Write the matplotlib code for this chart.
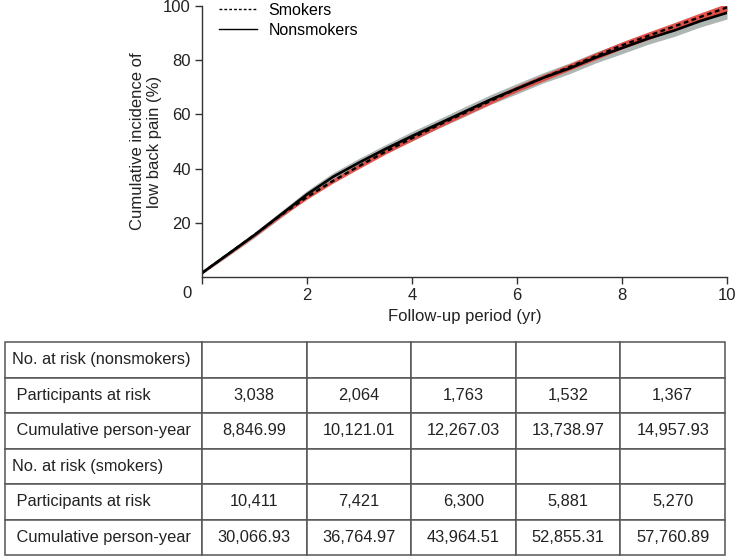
import numpy as np
import matplotlib
matplotlib.use("Agg")
import matplotlib.pyplot as plt

plt.rcParams['font.family'] = ['Liberation Sans', 'DejaVu Sans']

# follow-up time (yr) and cumulative incidence (%)
years = [0, 0.5, 1, 1.5, 2, 2.5, 3, 3.5, 4, 4.5, 5,
         5.5, 6, 6.5, 7, 7.5, 8, 8.5, 9, 9.5, 10]
smokers = [1.5, 8.5, 15.5, 22.8, 29.5, 35.5, 41.0, 46.3, 51.2, 56.0, 60.5,
           65.0, 69.5, 73.5, 77.5, 81.5, 85.5, 89.0, 92.5, 96.0, 99.5]
smokers_ci = [0.3, 0.5, 0.6, 0.7, 0.8, 0.8, 0.9, 0.9, 1.0, 1.0, 1.0,
              1.1, 1.1, 1.2, 1.2, 1.3, 1.3, 1.4, 1.4, 1.5, 1.5]
nonsmokers = [1.5, 8.5, 15.5, 23.0, 30.5, 37.0, 42.3, 47.3, 52.0, 56.5, 61.0,
              65.5, 69.5, 73.5, 77.0, 81.0, 84.5, 88.0, 91.0, 94.5, 97.5]
nonsmokers_ci = [0.4, 0.8, 1.0, 1.2, 1.4, 1.5, 1.6, 1.6, 1.7, 1.7, 1.8,
                 1.8, 1.9, 1.9, 2.0, 2.0, 2.1, 2.1, 2.2, 2.2, 2.3]

# number at risk table (columns = 0, 2, 4, 6, 8 yr)
nonsmk_at_risk = ['3,038', '2,064', '1,763', '1,532', '1,367']
nonsmk_person_yr = ['8,846.99', '10,121.01', '12,267.03', '13,738.97', '14,957.93']
smk_at_risk = ['10,411', '7,421', '6,300', '5,881', '5,270']
smk_person_yr = ['30,066.93', '36,764.97', '43,964.51', '52,855.31', '57,760.89']

W, H = 735, 557
fig = plt.figure(figsize=(W / 100, H / 100), dpi=100)

# ---- curve panel
ax = fig.add_axes([202 / W, 1 - 277 / H, 525 / W, 271 / H])
t = np.array(years)
s = np.array(smokers)
n = np.array(nonsmokers)
ax.fill_between(t, n - np.array(nonsmokers_ci), n + np.array(nonsmokers_ci),
                color='#9fa9a5', alpha=0.85, lw=0)
ax.fill_between(t, s - np.array(smokers_ci), s + np.array(smokers_ci),
                color='#e2463c', alpha=0.9, lw=0)
ax.plot(t, n, color='black', lw=1.9, label='Nonsmokers')
ax.plot(t, s, color='black', lw=1.7, ls=(0, (2, 1.5)), label='Smokers')

ax.set_xlim(0, 10)
ax.set_ylim(0, 100)
ax.set_xticks([0, 2, 4, 6, 8, 10])
ax.set_xticklabels(['', '2', '4', '6', '8', '10'])
ax.set_yticks([20, 40, 60, 80, 100])
for sp in ['top', 'right']:
    ax.spines[sp].set_visible(False)
for sp in ['left', 'bottom']:
    ax.spines[sp].set_color('#333333')
    ax.spines[sp].set_linewidth(1.0)
ax.tick_params(direction='out', length=5, width=1.0, color='#333333',
               labelsize=12, labelcolor='#222222', pad=3)
ax.text(-0.28, -0.06, '0', transform=ax.get_xaxis_transform(),
        ha='center', va='center', fontsize=12, color='#222222')
ax.set_xlabel('Follow-up period (yr)', fontsize=12, color='#222222', labelpad=4)
ax.set_ylabel('Cumulative incidence of\nlow back pain (%)', fontsize=12,
              color='#222222', linespacing=1.2)
ax.yaxis.set_label_coords(-0.076, 0.5)

h, l = ax.get_legend_handles_labels()
leg = ax.legend(h[::-1], l[::-1], loc='upper left', bbox_to_anchor=(0.032, 1.012),
                frameon=False, fontsize=11.5, handlelength=2.4, handletextpad=0.7,
                borderpad=0, borderaxespad=0, labelspacing=0.3)
for line in leg.get_lines():
    line.set_linewidth(1.0)

# ---- table panel
tax = fig.add_axes([5 / W, 1 - 555 / H, 720 / W, 213 / H])
tax.axis('off')
rows = [
    ['No. at risk (nonsmokers)'] + [''] * 5,
    [' Participants at risk'] + nonsmk_at_risk,
    [' Cumulative person-year'] + nonsmk_person_yr,
    ['No. at risk (smokers)'] + [''] * 5,
    [' Participants at risk'] + smk_at_risk,
    [' Cumulative person-year'] + smk_person_yr,
]
first_w = 197 / 720
other_w = (1 - first_w) / 5
tbl = tax.table(cellText=rows, colWidths=[first_w] + [other_w] * 5,
                bbox=[0, 0, 1, 1], cellLoc='center')
tbl.auto_set_font_size(False)
for (r, c), cell in tbl.get_celld().items():
    cell.set_edgecolor('#555555')
    cell.set_linewidth(1.1)
    cell.get_text().set_fontsize(11.8)
    cell.get_text().set_color('#222222')
    if c == 0:
        cell.PAD = 0.035
        cell.get_text().set_ha('left')
        cell._loc = 'left'

fig.savefig('out.png', dpi=100)
